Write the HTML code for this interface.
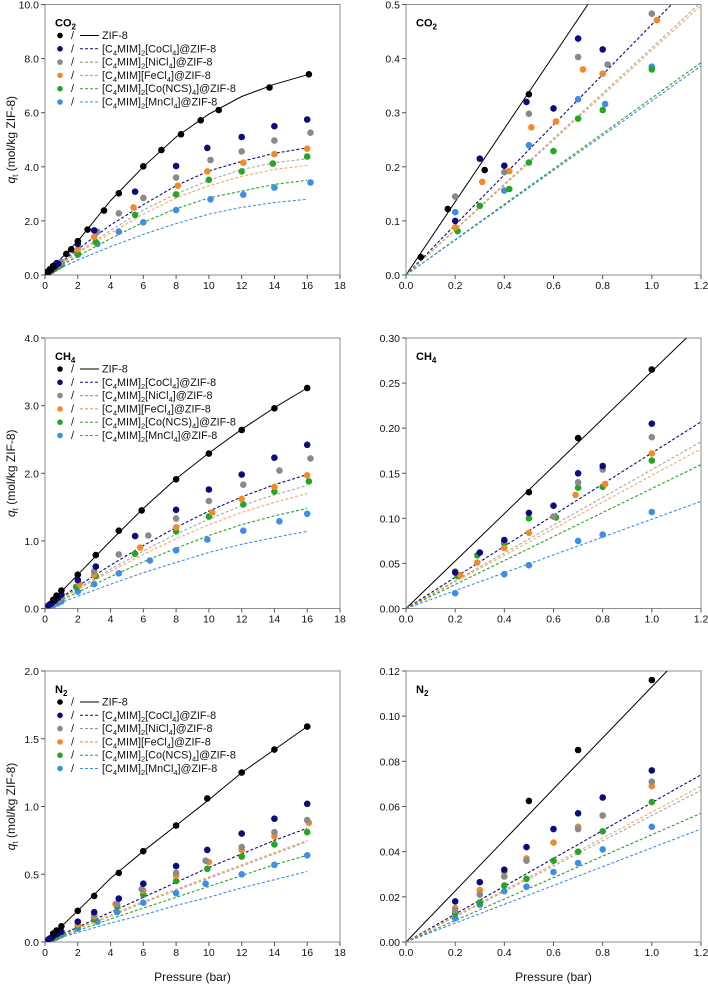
<!DOCTYPE html>
<html><head><meta charset="utf-8">
<style>
html,body{margin:0;padding:0;background:#fff;}
svg{display:block;font-family:"Liberation Sans",Arial,sans-serif;}
</style></head>
<body>
<svg id="fig" width="708" height="984" viewBox="0 0 708 984"></svg>
<script>
// ---- Data ----
const seriesNames = ["ZIF-8","[C4MIM]2[CoCl4]@ZIF-8","[C4MIM]2[NiCl4]@ZIF-8","[C4MIM][FeCl4]@ZIF-8","[C4MIM]2[Co(NCS)4]@ZIF-8","[C4MIM]2[MnCl4]@ZIF-8"];
const fitPressures = [0,2,4,6,8,10,12,14,16];
// CO2
const co2Zif8 = [[0.06,0.033],[0.17,0.122],[0.32,0.194],[0.5,0.334],[1.3,0.78],[1.6,0.95],[2,1.25],[2.6,1.68],[3.6,2.38],[4.5,3.02],[6,4.02],[7.1,4.62],[8.3,5.2],[9.5,5.72],[10.6,6.1],[13.7,6.93],[16.1,7.42]];
const co2Co = [[0.2,0.1],[0.3,0.215],[0.4,0.202],[0.49,0.32],[0.6,0.308],[0.7,0.437],[0.8,0.417],[2,1.15],[3,1.65],[5.5,3.08],[8,4.03],[9.9,4.7],[12,5.1],[14,5.5],[16,5.75]];
const co2Ni = [[0.2,0.145],[0.4,0.19],[0.5,0.298],[0.7,0.403],[0.82,0.389],[1.0,0.483],[3.2,1.6],[4.5,2.28],[6,2.85],[8,3.6],[10.1,4.25],[12,4.57],[14,4.97],[16.2,5.26]];
const co2Fe = [[0.2,0.088],[0.31,0.172],[0.42,0.192],[0.51,0.273],[0.61,0.284],[0.72,0.38],[0.8,0.372],[1.02,0.471],[2,0.95],[3,1.4],[5.4,2.5],[8.1,3.3],[9.9,3.83],[12.1,4.15],[14,4.47],[16,4.67]];
const co2Ncs = [[0.21,0.081],[0.3,0.128],[0.42,0.159],[0.5,0.208],[0.6,0.229],[0.7,0.289],[0.8,0.305],[1.0,0.38],[2,0.78],[3.1,1.22],[5.5,2.22],[8,2.98],[10,3.52],[12,3.83],[13.9,4.12],[16,4.38]];
const co2Mn = [[0.2,0.116],[0.4,0.156],[0.5,0.24],[0.7,0.325],[0.81,0.316],[1.0,0.385],[2,0.75],[3.2,1.15],[4.5,1.6],[6,1.95],[8,2.4],[10.1,2.8],[12.1,2.97],[14,3.23],[16.2,3.42]];
const co2FitZif8 = [0,1.25,2.75,4.0,5.1,5.95,6.6,7.05,7.4];
const co2FitCo = [0,0.95,1.85,2.6,3.3,3.85,4.2,4.5,4.7];
const co2FitNi = [0,0.85,1.65,2.4,3.0,3.5,3.9,4.15,4.3];
const co2FitFe = [0,0.8,1.55,2.25,2.85,3.3,3.65,3.9,4.05];
const co2FitNcs = [0,0.7,1.35,1.95,2.45,2.85,3.1,3.35,3.5];
const co2FitMn = [0,0.55,1.05,1.5,1.9,2.25,2.5,2.68,2.8];
const co2LowSlopes = [0.676,0.463,0.42,0.415,0.327,0.322];
// CH4
const ch4Zif8 = [[0.5,0.129],[0.7,0.189],[1,0.265],[2,0.5],[3.1,0.79],[4.5,1.15],[5.9,1.45],[8,1.91],[10,2.29],[12,2.64],[14,2.96],[16,3.26]];
const ch4Co = [[0.2,0.04],[0.3,0.062],[0.4,0.076],[0.5,0.106],[0.6,0.114],[0.7,0.15],[0.8,0.158],[1,0.205],[2,0.42],[3.1,0.62],[5.5,1.07],[8,1.46],[10,1.76],[12,1.98],[14,2.23],[16,2.42]];
const ch4Ni = [[0.2,0.041],[0.4,0.075],[0.6,0.102],[0.7,0.14],[0.8,0.154],[1,0.19],[3,0.55],[4.5,0.8],[6.3,1.08],[8,1.33],[10,1.59],[12.1,1.83],[14.3,2.04],[16.2,2.22]];
const ch4Fe = [[0.22,0.037],[0.29,0.051],[0.4,0.067],[0.5,0.084],[0.6,0.102],[0.69,0.126],[0.81,0.138],[1,0.172],[2.1,0.36],[3,0.5],[5.8,0.9],[8,1.2],[10.2,1.42],[12,1.62],[14,1.8],[16,1.97]];
const ch4Ncs = [[0.21,0.036],[0.29,0.059],[0.4,0.072],[0.5,0.1],[0.61,0.101],[0.7,0.134],[0.8,0.135],[1,0.164],[1.9,0.32],[3.1,0.48],[5.5,0.81],[8,1.14],[10,1.36],[12.1,1.54],[14,1.73],[16.1,1.88]];
const ch4Mn = [[0.2,0.017],[0.4,0.038],[0.5,0.048],[0.7,0.075],[0.8,0.082],[1,0.107],[2,0.25],[3,0.36],[4.5,0.52],[6.4,0.71],[8,0.86],[9.9,1.02],[12.1,1.15],[14.3,1.29],[16,1.4]];
const ch4FitZif8 = [0,0.5,1.0,1.48,1.92,2.3,2.65,2.97,3.26];
const ch4FitCo = [0,0.33,0.64,0.93,1.2,1.44,1.65,1.83,1.98];
const ch4FitNi = [0,0.3,0.58,0.85,1.1,1.32,1.52,1.68,1.82];
const ch4FitFe = [0,0.28,0.55,0.8,1.03,1.24,1.42,1.57,1.7];
const ch4FitNcs = [0,0.24,0.47,0.69,0.89,1.08,1.24,1.37,1.48];
const ch4FitMn = [0,0.18,0.36,0.53,0.68,0.83,0.95,1.05,1.14];
const ch4LowSlopes = [0.263,0.1725,0.154,0.1475,0.133,0.099];
// N2
const n2Zif8 = [[0.5,0.0625],[0.7,0.085],[1,0.116],[2,0.23],[3,0.34],[4.5,0.51],[6,0.67],[8,0.86],[9.9,1.06],[12,1.25],[14,1.42],[16,1.59]];
const n2Co = [[0.2,0.018],[0.3,0.0265],[0.4,0.032],[0.49,0.042],[0.6,0.05],[0.7,0.057],[0.8,0.064],[1,0.076],[2,0.15],[3,0.22],[4.5,0.32],[6,0.43],[8,0.56],[9.9,0.68],[12,0.8],[14,0.91],[16,1.02]];
const n2Ni = [[0.2,0.014],[0.3,0.021],[0.4,0.029],[0.49,0.036],[0.7,0.05],[0.8,0.056],[1,0.071],[3,0.2],[4.4,0.28],[5.9,0.39],[8,0.51],[9.8,0.6],[12,0.7],[14,0.81],[16,0.9]];
const n2Fe = [[0.2,0.015],[0.3,0.023],[0.4,0.031],[0.49,0.037],[0.6,0.044],[0.7,0.051],[0.8,0.056],[1,0.069],[2,0.13],[3,0.19],[4.3,0.28],[6,0.38],[8,0.49],[10,0.59],[12,0.68],[14,0.78],[16.1,0.88]];
const n2Ncs = [[0.2,0.0125],[0.3,0.0175],[0.4,0.025],[0.49,0.028],[0.6,0.036],[0.7,0.04],[0.8,0.049],[1,0.062],[2,0.12],[3,0.17],[4.4,0.26],[6,0.35],[8,0.45],[9.9,0.54],[12,0.63],[14,0.72],[16,0.81]];
const n2Mn = [[0.2,0.0105],[0.3,0.0165],[0.4,0.0225],[0.49,0.0245],[0.6,0.031],[0.7,0.035],[0.8,0.041],[1,0.051],[2,0.1],[3.2,0.15],[4.4,0.22],[6,0.29],[8,0.36],[9.8,0.43],[12,0.5],[14,0.57],[16,0.64]];
const n2FitZif8 = [0,0.23,0.47,0.67,0.86,1.05,1.25,1.42,1.59];
const n2FitCo = [0,0.11,0.22,0.33,0.44,0.55,0.65,0.75,0.84];
const n2FitNi = [0,0.1,0.19,0.29,0.38,0.47,0.56,0.65,0.74];
const n2FitFe = [0,0.1,0.2,0.3,0.39,0.48,0.57,0.66,0.75];
const n2FitNcs = [0,0.085,0.17,0.25,0.33,0.41,0.49,0.57,0.64];
const n2FitMn = [0,0.07,0.14,0.2,0.27,0.33,0.4,0.46,0.52];
const n2LowSlopes = [0.113,0.0617,0.056,0.0575,0.0475,0.0417];
// ticks
const xTicksLeft = [0,2,4,6,8,10,12,14,16,18];
const xTicksRight = [0,0.2,0.4,0.6,0.8,1.0,1.2];
const co2YTicks = [0,2,4,6,8,10];
const co2YTicksLow = [0,0.1,0.2,0.3,0.4,0.5];
const ch4YTicks = [0,1,2,3,4];
const ch4YTicksLow = [0,0.05,0.1,0.15,0.2,0.25,0.3];
const n2YTicks = [0,0.5,1,1.5,2];
const n2YTicksLow = [0,0.02,0.04,0.06,0.08,0.1,0.12];

const colors = ["#000000","#0b0b7d","#8a8a8a","#f4892a","#24a524","#3d8ee6"];
const NS = "http://www.w3.org/2000/svg";
const svg = document.getElementById("fig");
function mk(tag, attrs, parent){const e=document.createElementNS(NS,tag);for(const k in attrs)e.setAttribute(k,attrs[k]);(parent||svg).appendChild(e);return e;}

function panel(o){
  const g = mk("g",{});
  
  
  const sx = v => o.x0 + (v - o.xmin)/(o.xmax - o.xmin)*(o.x1 - o.x0);
  const sy = v => o.yb - (v - o.ymin)/(o.ymax - o.ymin)*(o.yb - o.yt);
  const clip = "clip-"+o.name;
  const cp = mk("clipPath",{id:clip},g);
  mk("rect",{x:o.x0,y:o.yt,width:o.x1-o.x0,height:o.yb-o.yt},cp);
  const fr = mk("rect",{x:o.x0,y:o.yt,width:o.x1-o.x0,height:o.yb-o.yt,fill:"none",stroke:"#8c8c8c","stroke-width":1},g);
  
  
  o.xt.forEach(t=>{
    const X=sx(t);
    mk("line",{x1:X,x2:X,y1:o.yb,y2:o.yb+4,stroke:"#555","stroke-width":1},g);
    const tx = mk("text",{x:X,y:o.yb+14,"font-size":10.5,"text-anchor":"middle",fill:"#111"},g);
    tx.textContent = o.dec!==undefined ? t.toFixed(o.xdec) : t;
    
    
  });
  o.yticks.forEach(t=>{
    const Y=sy(t);
    mk("line",{x1:o.x0-4,x2:o.x0,y1:Y,y2:Y,stroke:"#555","stroke-width":1},g);
    const tx = mk("text",{x:o.x0-6,y:Y+4,"font-size":10.5,"text-anchor":"end",fill:"#111"},g);
    tx.textContent = t.toFixed(o.ydec);
    
    
  });
  const lg = mk("g",{"clip-path":"url(#"+clip+")"},g);
  o.fits.forEach((f,i)=>{
    let d;
    if(o.slopes){ d = "M"+sx(0)+","+sy(0)+" L"+sx(o.xmax)+","+sy(f*o.xmax); }
    else { d = fitPressures.map((p,j)=>(j?"L":"M")+sx(p).toFixed(1)+","+sy(f[j]).toFixed(1)).join(" "); }
    const attrs = {d:d,fill:"none",stroke:colors[i],"stroke-width":i==0?1:1.1};
    if(i>0) attrs["stroke-dasharray"]="3,2";
    if(i==2||i==3) attrs["stroke-opacity"]=0.75;
    const p = mk("path",attrs,lg);
    
    
  });
  const order=[5,4,3,2,1,0];
  order.forEach(i=>{
    o.points[i].forEach(pt=>{
      if(pt[0]>o.xmax*1.02) return;
      const c = mk("circle",{cx:sx(pt[0]).toFixed(1),cy:sy(pt[1]).toFixed(1),r:3.3,fill:colors[i]},lg);
      
      
    });
  });
  const tt = mk("text",{x:o.x0+10,y:o.yt+22,"font-size":11,"font-weight":"bold",fill:"#000"},g);
  tt.innerHTML = o.title;
  
  
  if(o.legend){
    const lgd = mk("g",{},g);
    
    
    const labels = ["ZIF-8",
      "[C<tspan font-size='7.5' dy='3'>4</tspan><tspan dy='-3'>MIM]</tspan><tspan font-size='7.5' dy='3'>2</tspan><tspan dy='-3'>[CoCl</tspan><tspan font-size='7.5' dy='3'>4</tspan><tspan dy='-3'>]@ZIF-8</tspan>",
      "[C<tspan font-size='7.5' dy='3'>4</tspan><tspan dy='-3'>MIM]</tspan><tspan font-size='7.5' dy='3'>2</tspan><tspan dy='-3'>[NiCl</tspan><tspan font-size='7.5' dy='3'>4</tspan><tspan dy='-3'>]@ZIF-8</tspan>",
      "[C<tspan font-size='7.5' dy='3'>4</tspan><tspan dy='-3'>MIM][FeCl</tspan><tspan font-size='7.5' dy='3'>4</tspan><tspan dy='-3'>]@ZIF-8</tspan>",
      "[C<tspan font-size='7.5' dy='3'>4</tspan><tspan dy='-3'>MIM]</tspan><tspan font-size='7.5' dy='3'>2</tspan><tspan dy='-3'>[Co(NCS)</tspan><tspan font-size='7.5' dy='3'>4</tspan><tspan dy='-3'>]@ZIF-8</tspan>",
      "[C<tspan font-size='7.5' dy='3'>4</tspan><tspan dy='-3'>MIM]</tspan><tspan font-size='7.5' dy='3'>2</tspan><tspan dy='-3'>[MnCl</tspan><tspan font-size='7.5' dy='3'>4</tspan><tspan dy='-3'>]@ZIF-8</tspan>"];
    labels.forEach((lb,i)=>{
      const Y = o.yt + 31 + i*13.3;
      const row = mk("g",{},lgd);
      
      
      mk("circle",{cx:o.x0+15,cy:Y,r:2.8,fill:colors[i]},row);
      const sl = mk("text",{x:o.x0+26,y:Y+3.5,"font-size":10.8,fill:"#111"},row); sl.textContent="/";
      const la = {x1:o.x0+35,x2:o.x0+54,y1:Y,y2:Y,stroke:colors[i],"stroke-width":1};
      if(i>0) la["stroke-dasharray"]="3,2";
      mk("line",la,row);
      const t = mk("text",{x:o.x0+57,y:Y+3.5,"font-size":10.8,fill:"#111"},row);
      t.innerHTML = lb;
    });
  }
  if(o.ylabel){
    const cy=(o.yt+o.yb)/2;
    const t = mk("text",{x:0,y:0,"font-size":12,"text-anchor":"middle",fill:"#111",transform:"translate(15,"+cy+") rotate(-90)"},g);
    t.innerHTML = "<tspan font-style='italic'>q</tspan><tspan font-size='8' dy='3'>t</tspan><tspan dy='-3'> (mol/kg ZIF-8)</tspan>";
    
    
  }
  if(o.xlabel){
    const t = mk("text",{x:(o.x0+o.x1)/2,y:981,"font-size":12,"text-anchor":"middle",fill:"#111"},g);
    t.textContent = "Pressure (bar)";
    
    
  }
}
const L={x0:45,x1:340}, R={x0:406,x1:701};
const rows=[{yt:4.5,yb:275},{yt:338,yb:608.5},{yt:671,yb:942}];
const gases=[
 {key:"co2",title:"CO<tspan font-size='8' dy='3'>2</tspan>",pts:[co2Zif8,co2Co,co2Ni,co2Fe,co2Ncs,co2Mn],fits:[co2FitZif8,co2FitCo,co2FitNi,co2FitFe,co2FitNcs,co2FitMn],slopes:co2LowSlopes,yt:co2YTicks,ytl:co2YTicksLow,ymax:10,ymaxl:0.5,yd:1,ydl:1},
 {key:"ch4",title:"CH<tspan font-size='8' dy='3'>4</tspan>",pts:[ch4Zif8,ch4Co,ch4Ni,ch4Fe,ch4Ncs,ch4Mn],fits:[ch4FitZif8,ch4FitCo,ch4FitNi,ch4FitFe,ch4FitNcs,ch4FitMn],slopes:ch4LowSlopes,yt:ch4YTicks,ytl:ch4YTicksLow,ymax:4,ymaxl:0.3,yd:1,ydl:2},
 {key:"n2",title:"N<tspan font-size='8' dy='3'>2</tspan>",pts:[n2Zif8,n2Co,n2Ni,n2Fe,n2Ncs,n2Mn],fits:[n2FitZif8,n2FitCo,n2FitNi,n2FitFe,n2FitNcs,n2FitMn],slopes:n2LowSlopes,yt:n2YTicks,ytl:n2YTicksLow,ymax:2,ymaxl:0.12,yd:1,ydl:2}
];
gases.forEach((G,r)=>{
  panel({name:G.key+"-full-range-panel",x0:L.x0,x1:L.x1,yt:rows[r].yt,yb:rows[r].yb,xmin:0,xmax:18,ymin:0,ymax:G.ymax,xt:xTicksLeft,yticks:G.yt,ydec:G.yd,fits:G.fits,points:G.pts,title:G.title,legend:true,ylabel:true,xlabel:r==2});
  panel({name:G.key+"-low-pressure-panel",x0:R.x0,x1:R.x1,yt:rows[r].yt,yb:rows[r].yb,xmin:0,xmax:1.2,ymin:0,ymax:G.ymaxl,xt:xTicksRight,dec:1,xdec:1,yticks:G.ytl,ydec:G.ydl,fits:G.slopes,slopes:true,points:G.pts,title:G.title,legend:false,ylabel:false,xlabel:r==2});
});
</script>
</body></html>
